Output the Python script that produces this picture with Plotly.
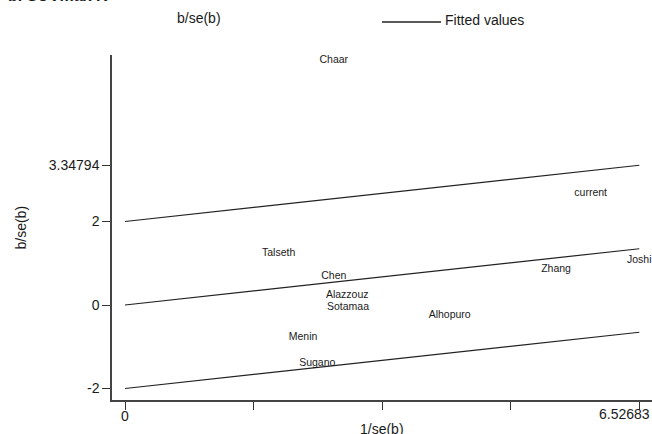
import plotly.graph_objects as go

# Galbraith plot: standardised effect b/se(b) against precision 1/se(b)
studies = ["Chaar", "current", "Talseth", "Chen", "Alazzouz", "Sotamaa",
           "Alhopuro", "Menin", "Sugano", "Zhang", "Joshi"]
inv_se = [2.65, 5.91, 1.95, 2.65, 2.82, 2.83, 4.12, 2.26, 2.44, 5.47, 6.52683]
z_score = [5.85, 2.67, 1.23, 0.685, 0.22, -0.065, -0.24, -0.78, -1.39, 0.85, 1.07]

# upper band value at the largest precision (also used as a y tick)
upper_at_max = 3.34794
band_offsets = [2, 0, -2]

x_max = max(inv_se)
slope = (upper_at_max - 2) / x_max

y_tickvals = [-2, 0, 2, upper_at_max]
y_ticktext = ["-2", "0", "2", "3.34794"]
x_tickvals = [0, x_max / 4, x_max / 2, 3 * x_max / 4, x_max]
x_ticktext = ["0", "", "", "", ""]
x_max_label = "6.52683"

FONT = "Liberation Sans, Arial, sans-serif"
TXT = "#1a1a1a"

fig = go.Figure()

x_fit = [0] + sorted(inv_se)
for off in band_offsets:
    fig.add_trace(go.Scatter(
        x=x_fit, y=[slope * x + off for x in x_fit],
        mode="lines", line=dict(color="#222222", width=1.2),
        showlegend=False, hoverinfo="skip"))

fig.add_trace(go.Scatter(
    x=inv_se, y=z_score, mode="text", text=studies,
    textposition="middle center",
    textfont=dict(family=FONT, size=10.5, color=TXT),
    showlegend=False))

axis_common = dict(
    showgrid=False, zeroline=False, showline=True,
    linecolor="#444444", linewidth=1.5,
    ticks="outside", ticklen=8, tickwidth=1.4, tickcolor="#333333",
    tickfont=dict(family=FONT, size=14, color=TXT),
)

fig.update_xaxes(range=[-0.165, 6.688], tickmode="array",
                 tickvals=x_tickvals, ticktext=x_ticktext,
                 ticklabelstandoff=-6, **axis_common)
fig.update_yaxes(range=[-2.275, 5.988], tickmode="array",
                 tickvals=y_tickvals, ticktext=y_ticktext, **axis_common)


def px_x(p):
    return (p - 112) / 540


def px_y(p):
    return (400 - p) / 345


annotations = [
    # label for the largest precision, kept inside the right edge
    dict(text=x_max_label, x=px_x(652), y=px_y(414), xref="paper", yref="paper",
         xanchor="right", yanchor="middle", showarrow=False,
         font=dict(family=FONT, size=14, color=TXT)),
    # axis titles
    dict(text="1/se(b)", x=0.5, y=px_y(419), xref="paper", yref="paper",
         xanchor="center", yanchor="top", showarrow=False,
         font=dict(family=FONT, size=14, color=TXT)),
    dict(text="b/se(b)", x=px_x(20), y=0.5, xref="paper", yref="paper",
         xanchor="center", yanchor="middle", textangle=-90, showarrow=False,
         font=dict(family=FONT, size=14, color=TXT)),
    # legend
    dict(text="b/se(b)", x=px_x(175), y=px_y(18),
         xref="paper", yref="paper", xanchor="left", yanchor="middle",
         showarrow=False, font=dict(family=FONT, size=14, color=TXT)),
    dict(text="Fitted values", x=px_x(443), y=px_y(20),
         xref="paper", yref="paper", xanchor="left", yanchor="middle",
         showarrow=False, font=dict(family=FONT, size=14, color=TXT)),
    # panel heading
    dict(text="<b>b. SUVmax R</b>", x=px_x(6), y=px_y(-4),
         xref="paper", yref="paper", xanchor="left", yanchor="middle",
         showarrow=False, font=dict(family=FONT, size=16, color=TXT)),
]

shapes = [
    dict(type="line", xref="paper", yref="paper",
         x0=px_x(382), x1=px_x(441), y0=px_y(22), y1=px_y(22),
         line=dict(color="#222222", width=1.3)),
]

fig.update_layout(
    width=652, height=434,
    margin=dict(l=112, r=0, t=55, b=34),
    paper_bgcolor="white", plot_bgcolor="white",
    annotations=annotations, shapes=shapes,
    showlegend=False,
)

fig.write_html("out.html")
